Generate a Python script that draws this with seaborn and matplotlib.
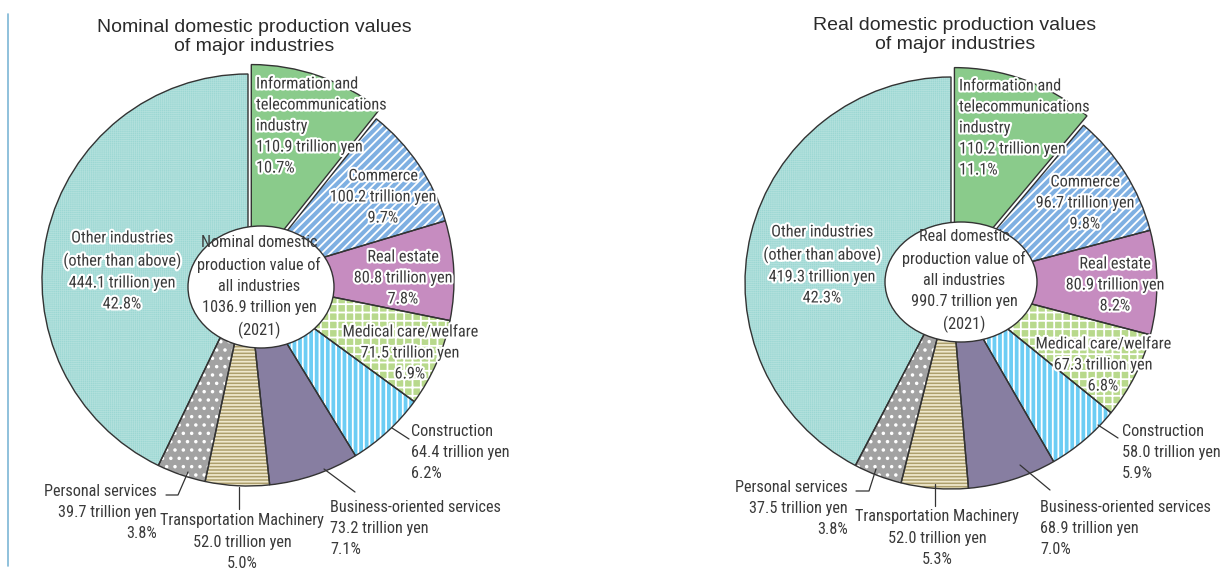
import matplotlib
matplotlib.use('Agg')
import matplotlib.pyplot as plt
import matplotlib.patheffects as pe
from matplotlib import font_manager
from matplotlib.patches import Ellipse
import seaborn as sns

# ---- data ----
industries = ['Information and\ntelecommunications\nindustry', 'Commerce', 'Real estate',
              'Medical care/welfare', 'Construction', 'Business-oriented services',
              'Transportation Machinery', 'Personal services', 'Other industries\n(other than above)']
nominal_values = [110.9, 100.2, 80.8, 71.5, 64.4, 73.2, 52.0, 39.7, 444.1]
nominal_shares = [10.7, 9.7, 7.8, 6.9, 6.2, 7.1, 5.0, 3.8, 42.8]
real_values = [110.2, 96.7, 80.9, 67.3, 58.0, 68.9, 52.0, 37.5, 419.3]
real_shares = [11.1, 9.8, 8.2, 6.8, 5.9, 7.0, 5.3, 3.8, 42.3]
nominal_total = 1036.9
real_total = 990.7
year = 2021

colors = ['#8acb8b', '#7fb0e2', '#c68cc0', '#b8d98c', '#6ccdf4',
          '#877ea1', '#ad9f6c', '#a2a2a2', '#9bd7d3']
hatches = ['', '////', '', '++', '|||', '', '-----', '..', '++++++++']
hatch_colors = ['white', 'white', 'white', 'white', 'white',
                'white', '#efe8cc', 'white', '#b2e0dc']

sns.set_theme(style='white')

# pick a narrow face for the labels if one is installed
names = {f.name for f in font_manager.fontManager.ttflist}
label_family, label_stretch, label_size = 'Noto Sans CJK JP', 'normal', 10
for cand in ['Liberation Sans Narrow', 'Roboto Condensed', 'Open Sans Condensed',
             'Noto Sans Condensed', 'DejaVu Sans Condensed']:
    if cand in names:
        label_family, label_stretch, label_size = cand, 'normal', 11.7
        break
else:
    for f in font_manager.fontManager.ttflist:
        if str(f.stretch) in ('condensed', 'semi-condensed', '75', '87') and f.style == 'normal':
            label_family, label_stretch, label_size = f.name, 'condensed', 11.7
            break

plt.rcParams['font.family'] = [label_family, 'DejaVu Sans']
plt.rcParams['font.stretch'] = label_stretch
plt.rcParams['hatch.linewidth'] = 1.3

H = 572
TXT = '#3a3a3a'
LS = 1.5
halo = [pe.withStroke(linewidth=3, foreground='white')]


def fy(py):
    return H - py


def draw_pie(ax, values, shares, lay, title, center_title, total):
    cx, cy = lay['center']
    R = lay['radius']
    explode = [lay['explode']] + [0] * (len(values) - 1)
    wedges, _ = ax.pie(values, colors=colors, startangle=90, counterclock=False,
                       center=(cx, fy(cy)), radius=R, explode=explode,
                       wedgeprops=dict(linewidth=0), frame=True)
    for w, h, hc in zip(wedges, hatches, hatch_colors):
        if h:
            w.set_edgecolor(hc)
            w.set_linewidth(0)
            w.set_hatch(h)
            if hasattr(w, 'set_hatch_linewidth'):
                w.set_hatch_linewidth(0.5 if h.startswith('++++') else 1.3)
    ax.pie(values, startangle=90, counterclock=False, center=(cx, fy(cy)),
           radius=R, explode=explode, frame=True,
           wedgeprops=dict(fill=False, edgecolor='#333333', linewidth=1.0))

    ex, ey, ew, eh = lay['ellipse']
    ax.add_patch(Ellipse((ex, fy(ey)), ew, eh, facecolor='white',
                         edgecolor='#333333', linewidth=1.0, zorder=5))
    ax.text(lay['center_text'][0], fy(lay['center_text'][1]),
            f'{center_title}\n{total:.1f} trillion yen\n({year})',
            ha='center', va='center', fontsize=label_size, color=TXT,
            linespacing=LS, zorder=6)

    tx, ty = lay['title']
    ax.text(tx, fy(ty), title, ha='center', va='center', fontsize=14,
            family=['Liberation Sans', 'DejaVu Sans'], fontstretch='normal',
            color='#2a2a2a', linespacing=1.2)

    for i, (name, v, s) in enumerate(zip(industries, values, shares)):
        x, y, ha, inside = lay['labels'][i]
        ax.text(x, fy(y), f'{name}\n{v:.1f} trillion yen\n{s:.1f}%',
                ha=ha, va='center', multialignment=ha, fontsize=label_size,
                color=TXT, linespacing=LS, zorder=7,
                path_effects=halo if inside else None)
    for seg in lay['leaders']:
        ax.plot([p[0] for p in seg], [fy(p[1]) for p in seg],
                color='#333333', linewidth=0.9, zorder=7)


left_layout = {
    'center': (248, 280), 'radius': 206, 'explode': 10,
    'ellipse': (261, 287, 146, 122), 'center_text': (259, 287),
    'title': (254, 37),
    'labels': [(256, 126, 'left', True), (383, 197, 'center', True),
               (403, 278, 'center', True), (410, 353, 'center', True),
               (411, 453, 'left', False), (330, 529, 'left', False),
               (242, 542, 'center', False), (157, 512, 'right', False),
               (122, 271, 'center', True)],
    'leaders': [[(392, 428), (409, 439)], [(324, 469), (355, 492)],
                [(239, 487), (239, 509)], [(188, 472), (178, 495), (166, 495)]],
}
right_layout = {
    'center': (951, 283), 'radius': 206, 'explode': 10,
    'ellipse': (961, 282, 152, 120), 'center_text': (964, 281),
    'title': (955, 35),
    'labels': [(959, 128, 'left', True), (1085, 203, 'center', True),
               (1115, 285, 'center', True), (1103, 365, 'center', True),
               (1122, 453, 'left', False), (1040, 529, 'left', False),
               (937, 538, 'center', False), (848, 509, 'right', False),
               (822, 265, 'center', True)],
    'leaders': [[(1098, 425), (1118, 438)], [(1020, 465), (1050, 490)],
                [(935, 484), (935, 506)], [(876, 469), (869, 491), (856, 491)]],
}

fig = plt.figure(figsize=(12.3, 5.72), dpi=100)
ax = fig.add_axes([0, 0, 1, 1])

draw_pie(ax, nominal_values, nominal_shares, left_layout,
         'Nominal domestic production values\nof major industries',
         'Nominal domestic\nproduction value of\nall industries', nominal_total)
draw_pie(ax, real_values, real_shares, right_layout,
         'Real domestic production values\nof major industries',
         'Real domestic\nproduction value of\nall industries', real_total)

ax.plot([8, 8], [fy(14), fy(566)], color='#7db6d6', linewidth=1.2)

ax.set_xlim(0, 1230)
ax.set_ylim(0, H)
ax.set_aspect('equal')
ax.axis('off')

fig.savefig('out.png', dpi=100, facecolor='white')
